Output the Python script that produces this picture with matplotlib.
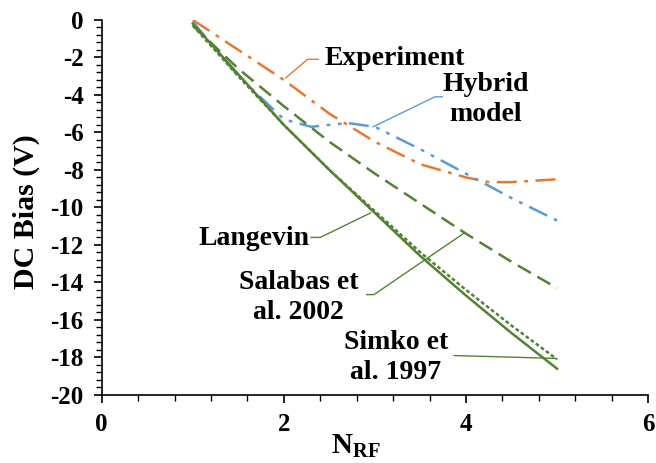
import matplotlib
matplotlib.use('Agg')
import matplotlib.pyplot as plt
from matplotlib.ticker import MultipleLocator

plt.rcParams['font.family'] = ['Liberation Serif', 'DejaVu Serif']
plt.rcParams['font.weight'] = 'bold'
plt.rcParams['axes.unicode_minus'] = False
plt.rcParams['mathtext.fontset'] = 'custom'
plt.rcParams['mathtext.rm'] = 'Liberation Serif:bold'
plt.rcParams['mathtext.bf'] = 'Liberation Serif:bold'
plt.rcParams['mathtext.it'] = 'Liberation Serif:bold'

# values
exp_x = [1.0, 1.5, 2.0, 2.5, 3.0, 3.5, 4.0, 4.25, 4.5, 5.0]
exp_y = [0.0, -1.6, -3.2, -5.0, -6.5, -7.7, -8.4, -8.65, -8.65, -8.5]

hyb_x = [1.0, 1.5, 2.0, 2.3, 2.7, 3.0, 3.5, 4.0, 4.5, 5.0]
hyb_y = [-0.1, -3.0, -5.3, -5.7, -5.5, -5.7, -6.9, -8.2, -9.5, -10.7]

n_rf = [1.0, 1.5, 2.0, 2.5, 3.0, 3.5, 4.0, 4.5, 5.0]
langevin = [-0.2, -2.9, -5.6, -8.0, -10.3, -12.6, -14.7, -16.7, -18.6]
simko = [-0.3, -3.0, -5.6, -8.0, -10.2, -12.4, -14.4, -16.3, -18.1]
salabas = [-0.3, -2.6, -4.6, -6.5, -8.2, -9.8, -11.4, -12.9, -14.3]

orange = '#E8782F'
blue = '#5B9BD5'
green = '#548235'

fig = plt.figure(figsize=(6.56, 4.63), dpi=100)
ax = fig.add_axes([0.155, 0.147, 0.833, 0.81])

ax.plot(exp_x, exp_y, color=orange, lw=1.8, dashes=(8, 3, 1.5, 3))
ax.plot(hyb_x, hyb_y, color=blue, lw=1.8, dashes=(8, 3, 1.5, 3, 1.5, 3))
ax.plot(n_rf, salabas, color=green, lw=1.8, dashes=(6, 3))
ax.plot(n_rf, simko, color=green, lw=1.8, dashes=(1.5, 1))
ax.plot(n_rf, langevin, color=green, lw=1.8)

ax.set_xlim(0, 6)
ax.set_ylim(-20, 0)
ax.xaxis.set_major_locator(MultipleLocator(2))
ax.xaxis.set_minor_locator(MultipleLocator(0.4))
ax.yaxis.set_major_locator(MultipleLocator(2))
ax.yaxis.set_minor_locator(MultipleLocator(0.4))
for s in ['top', 'right']:
    ax.spines[s].set_visible(False)
for s in ['left', 'bottom']:
    ax.spines[s].set_linewidth(1.2)
ax.tick_params(which='major', direction='out', length=6, width=1.2, pad=7)
ax.tick_params(which='minor', direction='out', length=4, width=1.0)
ax.tick_params(axis='y', which='major', pad=7)
for lbl in ax.get_xticklabels() + ax.get_yticklabels():
    lbl.set_fontweight('bold')
    lbl.set_fontsize(18)

ax.set_ylabel('DC Bias (V)', fontsize=21.5, fontweight='bold')
ax.yaxis.set_label_coords(-0.113, 0.49)
ax.set_xlabel(r'N$_{\mathrm{RF}}$', fontsize=21, fontweight='bold')
ax.xaxis.set_label_coords(0.465, -0.1)

txt = dict(fontsize=20, fontweight='bold', ha='center', va='center', linespacing=1.3)
# Experiment
ax.plot([2.02, 2.26, 2.38], [-3.1, -2.1, -2.1], color=orange, lw=1.0)
ax.text(3.22, -2.05, 'Experiment', **txt)
# Hybrid model
ax.plot([2.98, 3.66, 3.74], [-5.7, -4.1, -4.1], color=blue, lw=1.0)
ax.text(4.22, -4.25, 'Hybrid\nmodel', **txt)
# Langevin
ax.plot([2.30, 2.40, 2.95], [-11.6, -11.6, -10.3], color=green, lw=1.0)
ax.text(1.67, -11.65, 'Langevin', **txt)
# Salabas et al. 2002
ax.plot([2.91, 2.99, 3.97], [-14.65, -14.65, -11.4], color=green, lw=1.0)
ax.text(2.16, -14.8, 'Salabas et\nal. 2002', **txt)
# Simko et al. 1997
ax.plot([3.87, 4.98], [-17.9, -18.05], color=green, lw=1.0)
ax.text(3.23, -18.0, 'Simko et\nal. 1997', **txt)

fig.savefig('out.png', dpi=100)
